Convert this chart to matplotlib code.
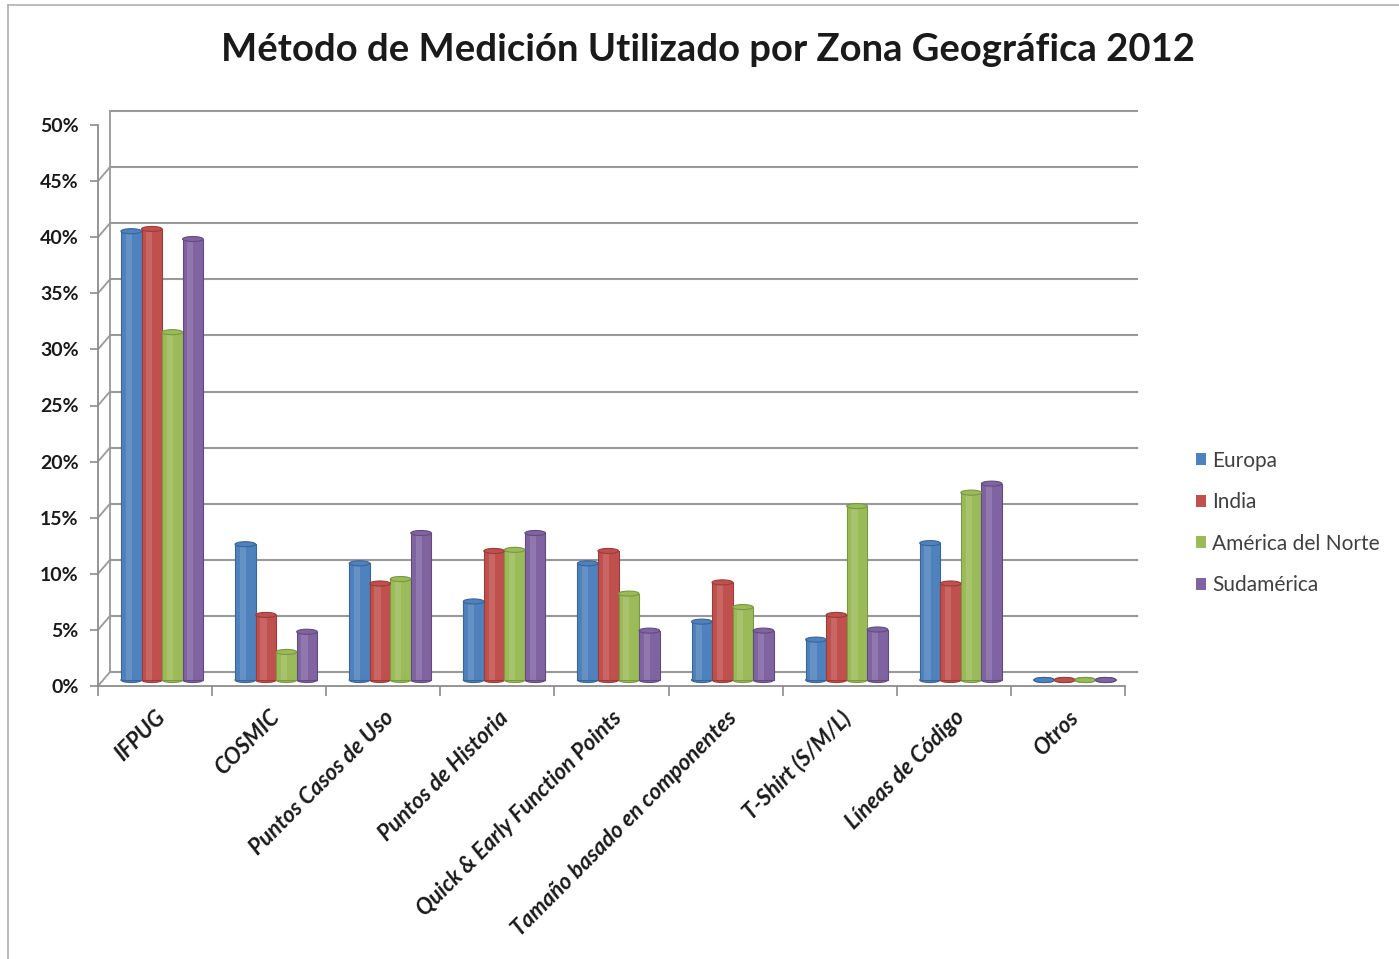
import numpy as np
import matplotlib
matplotlib.use("Agg")
import matplotlib.pyplot as plt
from matplotlib.patches import Ellipse
from matplotlib.transforms import offset_copy
from matplotlib.ticker import FuncFormatter, FixedLocator

plt.rcParams['font.family'] = ['Lato', 'DejaVu Sans']

# data (percent)
categories = ['IFPUG', 'COSMIC', 'Puntos Casos de Uso', 'Puntos de Historia',
              'Quick & Early Function Points', 'Tamaño basado en componentes',
              'T-Shirt (S/M/L)', 'Líneas de Código', 'Otros']
europa = [40.0, 12.1, 10.4, 7.0, 10.4, 5.2, 3.6, 12.2, 0.0]
india = [40.2, 5.8, 8.6, 11.5, 11.5, 8.7, 5.8, 8.6, 0.0]
america_norte = [31.0, 2.5, 9.0, 11.6, 7.7, 6.5, 15.5, 16.7, 0.0]
sudamerica = [39.3, 4.3, 13.1, 13.1, 4.4, 4.4, 4.5, 17.5, 0.0]
series_names = ['Europa', 'India', 'América del Norte', 'Sudamérica']
colors = ['#4F81BD', '#C0504D', '#9BBB59', '#8064A2']
edges = ['#3A6597', '#9C3B38', '#7A9744', '#614B80']

W, H = 1399, 959
fig = plt.figure(figsize=(W / 100, H / 100), dpi=100)
fig.patch.set_facecolor('white')

# chart border
fig.add_artist(plt.Line2D([8 / W, 1], [1 - 5 / H, 1 - 5 / H], color='#b0b0b0', lw=1.2))
fig.add_artist(plt.Line2D([8 / W, 8 / W], [0, 1 - 5 / H], color='#b0b0b0', lw=1.2))

ax = fig.add_axes([98 / W, 1 - 686 / H, (1125 - 98) / W, (686 - 125) / H])
ax.set_xlim(0, len(categories))
ax.set_ylim(0, 50)
ax.patch.set_alpha(0)

for s in ['top', 'right']:
    ax.spines[s].set_visible(False)
for s in ['left', 'bottom']:
    ax.spines[s].set_color('#8c8c8c')
    ax.spines[s].set_linewidth(1.3)

yt = np.arange(0, 51, 5)
ax.set_yticks(yt)
ax.yaxis.set_major_formatter(FuncFormatter(lambda v, p: f'{int(v)}%'))
ax.tick_params(axis='y', length=6, color='#8c8c8c', width=1.2, pad=8,
               labelsize=14, labelcolor='#1a1a1a')
for lab in ax.get_yticklabels():
    lab.set_fontweight('bold')

ax.xaxis.set_major_locator(FixedLocator(np.arange(0, len(categories) + 1)))
ax.xaxis.set_minor_locator(FixedLocator(np.arange(len(categories)) + 0.5))
ax.set_xticklabels([])
ax.set_xticklabels(categories, minor=True, rotation=45, ha='right', va='top',
                   rotation_mode='anchor', fontsize=16, fontstyle='italic',
                   fontweight='bold', color='#1a1a1a')
ax.tick_params(axis='x', which='major', length=7, color='#8c8c8c', width=1.2)
ax.tick_params(axis='x', which='minor', length=0, pad=15)

# back wall / floor (pseudo 3D)
dx, dy = 12, 14
grid_c = '#999999'
back = offset_copy(ax.transData, fig=fig, x=dx, y=dy, units='dots')
x1 = len(categories)
for v in yt:
    ax.plot([0, x1], [v, v], color=grid_c, lw=1.5, transform=back,
            clip_on=False, zorder=0.5)
    p = ax.transData.transform((0, v))
    ax.add_artist(plt.Line2D([p[0], p[0] + dx], [p[1], p[1] + dy],
                             transform=None, color=grid_c, lw=1.3, zorder=0.5))
ax.plot([0, 0], [0, 50], color=grid_c, lw=1.3, transform=back, clip_on=False, zorder=0.5)
p = ax.transData.transform((x1, 0))
ax.add_artist(plt.Line2D([p[0], p[0] + dx], [p[1], p[1] + dy],
                         transform=None, color=grid_c, lw=1.3, zorder=0.5))

# bars (cylinders) at half depth
mid = offset_copy(ax.transData, fig=fig, x=7, y=6, units='dots')
bw = 0.18
x = np.arange(len(categories)) + 0.5
data = [europa, india, america_norte, sudamerica]
cap_h = 0.45
for i, vals in enumerate(data):
    xs = x + (i - 1.5) * bw
    bars = ax.bar(xs, vals, width=bw, color=colors[i], edgecolor=edges[i],
                  linewidth=0.8, zorder=3, label=series_names[i])
    for b in bars:
        b.set_transform(mid)
    # highlight strip
    hl = ax.bar(xs - bw * 0.12, vals, width=bw * 0.3, color='white', alpha=0.13,
                linewidth=0, zorder=3.1)
    for b in hl:
        b.set_transform(mid)
    for xc, v in zip(xs, vals):
        ax.add_patch(Ellipse((xc, 0), bw, cap_h, facecolor=colors[i],
                             edgecolor=edges[i], lw=0.8, transform=mid, zorder=2.9))
        ax.add_patch(Ellipse((xc, v), bw, cap_h, facecolor=colors[i],
                             edgecolor=edges[i], lw=0.8, transform=mid, zorder=3.2))

fig.text(708 / W, 1 - 50 / H, 'Método de Medición Utilizado por Zona Geográfica 2012',
         ha='center', va='center', fontsize=27.5, fontweight='bold', color='#1a1a1a')

handles, labels = ax.get_legend_handles_labels()
leg = fig.legend(handles, labels, loc='upper left',
                 bbox_to_anchor=(1177 / W, 1 - 432 / H), frameon=False,
                 handlelength=0.5, handleheight=0.5, handletextpad=0.3,
                 labelspacing=1.03, fontsize=15)
for t in leg.get_texts():
    t.set_color('#404040')
for h in leg.legend_handles:
    h.set_edgecolor('none')

fig.savefig('out.png', dpi=100)
